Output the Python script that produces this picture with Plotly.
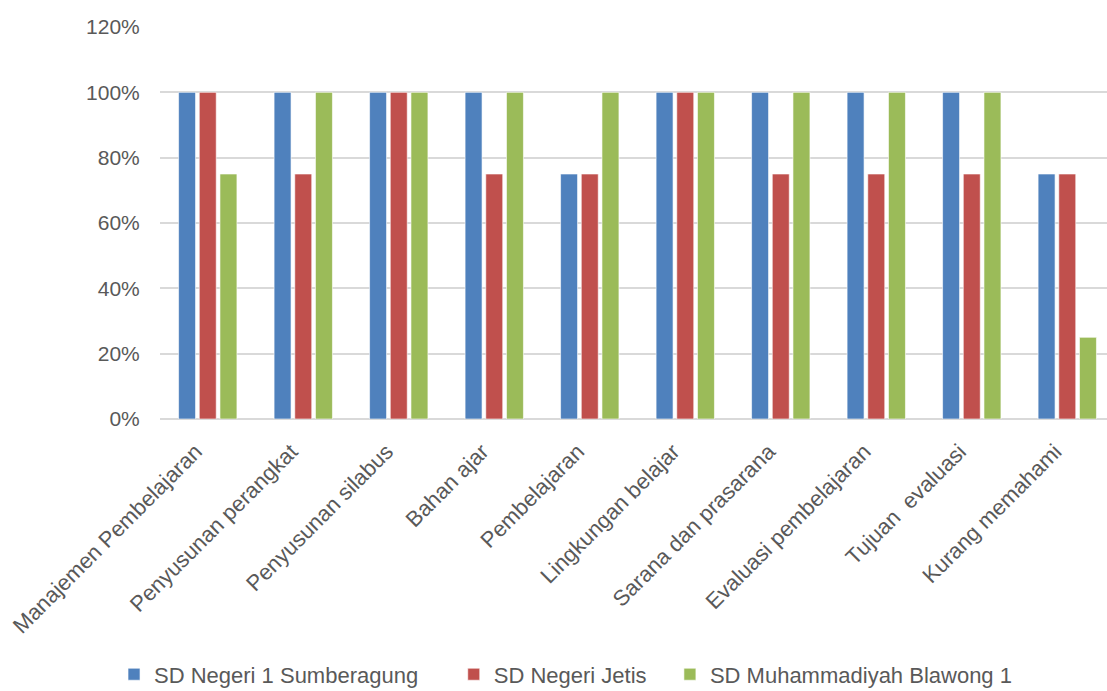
import plotly.graph_objects as go

categories = ["Manajemen Pembelajaran", "Penyusunan perangkat", "Penyusunan silabus",
              "Bahan ajar", "Pembelajaran", "Lingkungan belajar", "Sarana dan prasarana",
              "Evaluasi pembelajaran", "Tujuan  evaluasi", "Kurang memahami"]
sumberagung = [1.00, 1.00, 1.00, 1.00, 0.75, 1.00, 1.00, 1.00, 1.00, 0.75]
jetis = [1.00, 0.75, 1.00, 0.75, 0.75, 1.00, 0.75, 0.75, 0.75, 0.75]
blawong = [0.75, 1.00, 1.00, 1.00, 1.00, 1.00, 1.00, 1.00, 1.00, 0.25]

NB = "\u00a0"
series = [
    ("SD Negeri 1 Sumberagung", sumberagung, "#4F81BD", 5),
    ("SD Negeri Jetis", jetis, "#C0504D", 3),
    ("SD Muhammadiyah Blawong 1", blawong, "#9BBB59", 0),
]

font_family = "Liberation Sans, Arial, sans-serif"
text_color = "#595959"

fig = go.Figure()
for name, vals, color, pad in series:
    fig.add_trace(go.Bar(
        x=categories, y=vals, name=name + NB * pad,
        marker=dict(color=color, line=dict(color="rgba(255,255,255,0.6)", width=1)),
    ))

fig.update_layout(
    width=1107, height=691,
    margin=dict(l=160, r=0, t=27, b=272, autoexpand=False),
    paper_bgcolor="white", plot_bgcolor="white",
    barmode="group", bargap=0.35, bargroupgap=0.18,
    font=dict(family=font_family, size=22, color=text_color),
    legend=dict(orientation="h", x=0.103, xref="container", xanchor="left",
                y=0.024, yref="container", yanchor="middle",
                font=dict(size=22, color=text_color),
                itemwidth=30, traceorder="normal"),
    showlegend=True,
)
fig.update_xaxes(
    range=[-0.5, 9.416], tickangle=-45, showgrid=False, showline=False, zeroline=False,
    ticks="outside", ticklen=10, tickcolor="rgba(0,0,0,0)", ticklabelshift=-12,
    tickfont=dict(size=22, color=text_color),
)
fig.update_yaxes(
    range=[0, 1.2], tickvals=[0, 0.2, 0.4, 0.6, 0.8, 1.0, 1.2], tickformat=".0%",
    showgrid=True, gridcolor="#D9D9D9", gridwidth=1.5, zeroline=True, zerolinecolor="#D9D9D9",
    zerolinewidth=1.5, showline=False, ticks="outside", ticklen=15, tickcolor="rgba(0,0,0,0)",
    tickfont=dict(size=21, color=text_color),
)

fig.write_html("out.html")
